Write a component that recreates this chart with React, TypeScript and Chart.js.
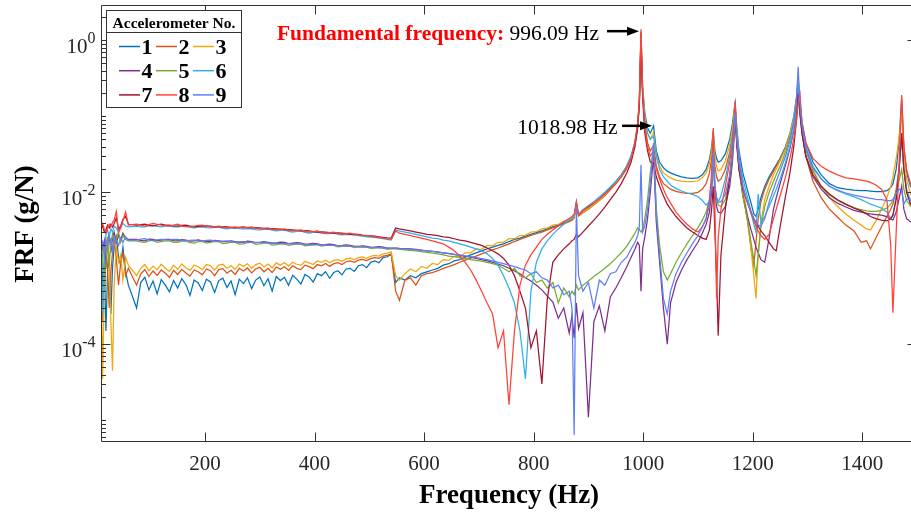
import React, { useEffect, useRef } from "react";
import { Chart, registerables } from "chart.js";

Chart.register(...registerables);

// ---------------- DATA ----------------
// Shared frequency grid (Hz)
const freq = [
  10, 13, 16, 19, 22, 25, 28, 31, 34, 38, 42, 46, 50, 55, 60,
  75, 82.5, 90, 97.5, 105, 112.5, 120, 127.5, 135,
  142.5, 150, 157.5, 165, 172.5, 180, 187.5, 195, 202.5,
  210, 217.5, 225, 232.5, 240, 247.5, 255, 262.5, 270,
  277.5, 285, 292.5, 300, 307.5, 315, 322.5, 330, 337.5,
  345, 352.5, 360, 367.5, 375, 382.5, 390, 397.5, 405,
  412.5, 420, 427.5, 435, 442.5, 450, 457.5, 465, 472.5,
  480, 487.5, 495, 502.5, 510, 517.5, 525, 532.5, 540,
  548, 555,
  565, 575, 585, 595, 605, 615, 625, 635, 645, 655,
  665, 675, 685, 695, 705, 715, 725, 735, 745, 755,
  765, 775, 785, 795, 805, 815, 825, 835, 845, 855,
  865,
  870, 874, 878, 882, 890, 900, 910, 920, 930, 940,
  950, 960, 970, 978, 985, 990, 993, 996, 999, 1003,
  1008, 1013, 1019, 1024, 1030, 1037, 1044, 1050, 1060, 1070,
  1080, 1090, 1100, 1108, 1115, 1121, 1125, 1128, 1131, 1134,
  1137, 1142, 1150, 1158, 1163, 1166, 1168, 1171, 1175, 1182,
  1190, 1197, 1202, 1206, 1210, 1215, 1222, 1230, 1238, 1243,
  1250, 1260, 1268, 1275, 1280, 1283, 1286, 1290, 1297, 1310,
  1325, 1340, 1355, 1370, 1385, 1398, 1408, 1415, 1425, 1435,
  1445, 1452, 1456, 1462, 1467, 1472, 1476, 1481, 1488, 1500,
];

// FRF (g/N) for accelerometers 1..9
const acc1 = [
  2.2e-3, 6e-4, 1.2e-3, 1.5e-4, 9e-4, 1.5e-3, 2.5e-4, 1.0e-3, 1.9e-3, 2.6e-3,
  1.4e-3, 1.1e-3, 1.9e-3, 9e-4, 6e-4,
  3e-4, 6.5e-4, 7.6e-4, 5.2e-4, 6.8e-4, 4.6e-4, 7.1e-4, 6.0e-4, 4.9e-4,
  6.9e-4, 5.5e-4, 7.3e-4, 6.1e-4, 4.4e-4, 7.0e-4, 6.4e-4, 5.1e-4, 7.2e-4,
  6.6e-4, 4.8e-4, 6.9e-4, 7.4e-4, 5.6e-4, 6.8e-4, 4.5e-4, 7.2e-4, 6.3e-4,
  7.5e-4, 5.4e-4, 7.0e-4, 7.7e-4, 5.9e-4, 7.3e-4, 5.0e-4, 7.8e-4, 6.9e-4,
  7.6e-4, 6.0e-4, 8.1e-4, 7.2e-4, 6.2e-4, 8.3e-4, 7.7e-4, 6.6e-4, 8.5e-4,
  8.0e-4, 9.0e-4, 7.4e-4, 8.8e-4, 9.3e-4, 8.2e-4, 9.8e-4, 1.0e-3, 9.1e-4,
  1.08e-3, 1.12e-3, 1.02e-3, 1.2e-3, 1.25e-3, 1.18e-3, 1.38e-3, 1.42e-3, 1.52e-3,
  6.5e-4, 7.5e-4,
  7e-4, 8e-4, 7.5e-4, 8.5e-4, 9e-4, 9.5e-4, 1.0e-3, 1.1e-3, 1.15e-3, 1.25e-3,
  1.3e-3, 1.4e-3, 1.5e-3, 1.6e-3, 1.7e-3, 1.8e-3, 1.9e-3, 2.0e-3, 2.1e-3, 2.25e-3,
  2.4e-3, 2.5e-3, 2.65e-3, 2.8e-3, 2.95e-3, 3.1e-3, 3.3e-3, 3.5e-3, 3.7e-3, 3.95e-3,
  4.2e-3,
  4.4e-3, 4.7e-3, 7.5e-3, 5.0e-3, 5.6e-3, 6.3e-3, 7.2e-3, 8.3e-3, 9.7e-3, 0.0115,
  0.0138, 0.017, 0.022, 0.03, 0.046, 0.08, 0.16, 1.3, 0.25, 0.11,
  0.07, 0.06, 0.075, 0.035, 0.025, 0.021, 0.019, 0.018, 0.0168, 0.016,
  0.0155, 0.0153, 0.0155, 0.017, 0.02, 0.027, 0.04, 0.065, 0.035, 0.028,
  0.025, 0.026, 0.032, 0.05, 0.08, 0.12, 0.15, 0.07, 0.035, 0.018,
  0.011, 0.0072, 0.0052, 0.0048, 0.006, 0.0085, 0.012, 0.016, 0.02, 0.023,
  0.028, 0.04, 0.06, 0.1, 0.18, 0.32, 0.16, 0.085, 0.045, 0.025,
  0.017, 0.013, 0.0115, 0.011, 0.0107, 0.0105, 0.0105, 0.0104, 0.0102, 0.0102,
  0.0105, 0.0115, 0.013, 0.02, 0.045, 0.17, 0.04, 0.018, 0.012, 0.0095,
];

const acc2 = [
  1.5e-3, 2e-4, 8e-4, 2.0e-3, 1.0e-3, 3e-4, 9e-4, 1.6e-3, 2.5e-3, 1.3e-3,
  6e-4, 1.2e-3, 1.6e-3, 8e-4, 1.0e-3,
  6e-4, 8.4e-4, 9.6e-4, 7.8e-4, 9.2e-4, 8.1e-4, 9.5e-4, 8.6e-4, 7.6e-4,
  9.4e-4, 8.3e-4, 9.7e-4, 8.7e-4, 7.9e-4, 9.5e-4, 9.0e-4, 8.2e-4, 9.8e-4,
  9.3e-4, 8.0e-4, 9.6e-4, 9.9e-4, 8.6e-4, 9.4e-4, 8.3e-4, 1.0e-3, 9.2e-4,
  1.01e-3, 8.7e-4, 9.8e-4, 1.03e-3, 9.0e-4, 1.0e-3, 8.8e-4, 1.04e-3, 9.7e-4,
  1.05e-3, 9.4e-4, 1.08e-3, 1.0e-3, 9.6e-4, 1.1e-3, 1.05e-3, 9.9e-4, 1.12e-3,
  1.08e-3, 1.16e-3, 1.06e-3, 1.15e-3, 1.19e-3, 1.12e-3, 1.22e-3, 1.25e-3, 1.2e-3,
  1.28e-3, 1.31e-3, 1.26e-3, 1.34e-3, 1.38e-3, 1.35e-3, 1.45e-3, 1.48e-3, 1.55e-3,
  5e-4, 3.8e-4,
  7e-4, 7.5e-4, 6e-4, 8e-4, 8.5e-4, 8.8e-4, 9.3e-4, 1.0e-3, 1.05e-3, 1.12e-3,
  1.2e-3, 1.28e-3, 1.36e-3, 1.45e-3, 1.55e-3, 1.65e-3, 1.75e-3, 1.85e-3, 1.97e-3, 2.1e-3,
  2.25e-3, 2.4e-3, 2.55e-3, 2.7e-3, 2.85e-3, 3.0e-3, 3.2e-3, 3.4e-3, 3.6e-3, 3.85e-3,
  4.1e-3,
  4.3e-3, 4.6e-3, 6.8e-3, 4.9e-3, 5.4e-3, 6.0e-3, 6.8e-3, 7.8e-3, 9.0e-3, 0.0108,
  0.013, 0.016, 0.0205, 0.028, 0.043, 0.075, 0.15, 1.2, 0.2, 0.08,
  0.045, 0.035, 0.042, 0.022, 0.016, 0.013, 0.0118, 0.011, 0.0103, 0.0099,
  0.0097, 0.0097, 0.01, 0.011, 0.013, 0.018, 0.028, 0.05, 0.022, 0.016,
  0.014, 0.015, 0.02, 0.034, 0.058, 0.09, 0.12, 0.05, 0.024, 0.01,
  0.0045, 0.0018, 0.0011, 0.0022, 0.0045, 0.0075, 0.011, 0.015, 0.019, 0.022,
  0.027, 0.038, 0.055, 0.09, 0.16, 0.28, 0.13, 0.065, 0.03, 0.014,
  0.0085, 0.006, 0.0047, 0.0037, 0.0031, 0.0022, 0.0023, 0.0018, 0.0025, 0.0035,
  0.0048, 0.006, 0.007, 0.011, 0.02, 0.06, 0.02, 0.0105, 0.0072, 0.0058,
];

const acc3 = [
  1.2e-3, 3.5e-5, 5e-4, 1.5e-3, 2.4e-3, 1.2e-3, 2e-4, 4.5e-5, 6e-4, 1.9e-3,
  1.2e-3, 1.5e-3, 7e-4, 1.4e-3, 1.1e-3,
  8e-4, 1.0e-3, 1.12e-3, 9.3e-4, 1.07e-3, 9.6e-4, 1.13e-3, 1.0e-3, 9.1e-4,
  1.1e-3, 9.7e-4, 1.14e-3, 1.02e-3, 9.4e-4, 1.1e-3, 1.05e-3, 9.6e-4, 1.12e-3,
  1.08e-3, 9.5e-4, 1.1e-3, 1.13e-3, 1.0e-3, 1.08e-3, 9.7e-4, 1.14e-3, 1.06e-3,
  1.15e-3, 1.0e-3, 1.12e-3, 1.17e-3, 1.04e-3, 1.14e-3, 1.01e-3, 1.18e-3, 1.1e-3,
  1.19e-3, 1.07e-3, 1.2e-3, 1.13e-3, 1.1e-3, 1.23e-3, 1.18e-3, 1.12e-3, 1.25e-3,
  1.2e-3, 1.28e-3, 1.18e-3, 1.27e-3, 1.3e-3, 1.24e-3, 1.33e-3, 1.36e-3, 1.3e-3,
  1.38e-3, 1.41e-3, 1.35e-3, 1.44e-3, 1.48e-3, 1.45e-3, 1.55e-3, 1.58e-3, 1.65e-3,
  8e-4, 7e-4,
  8.5e-4, 9.8e-4, 9.0e-4, 1.06e-3, 1.0e-3, 1.16e-3, 1.12e-3, 1.3e-3, 1.27e-3, 1.45e-3,
  1.42e-3, 1.6e-3, 1.6e-3, 1.8e-3, 1.78e-3, 2.0e-3, 1.98e-3, 2.2e-3, 2.2e-3, 2.45e-3,
  2.45e-3, 2.7e-3, 2.72e-3, 3.0e-3, 3.05e-3, 3.3e-3, 3.4e-3, 3.7e-3, 3.8e-3, 4.15e-3,
  4.35e-3,
  4.5e-3, 4.8e-3, 7e-3, 5.0e-3, 5.5e-3, 6.1e-3, 6.9e-3, 7.9e-3, 9.2e-3, 0.011,
  0.0132, 0.0163, 0.021, 0.029, 0.044, 0.075, 0.15, 1.1, 0.22, 0.1,
  0.06, 0.05, 0.062, 0.03, 0.022, 0.018, 0.0165, 0.0155, 0.0145, 0.014,
  0.0138, 0.0138, 0.0142, 0.0155, 0.018, 0.024, 0.035, 0.06, 0.03, 0.022,
  0.019, 0.02, 0.026, 0.042, 0.07, 0.11, 0.14, 0.06, 0.028, 0.012,
  0.005, 0.0018, 8e-4, 4e-4, 1.5e-3, 4e-3, 8e-3, 0.012, 0.017, 0.02,
  0.026, 0.038, 0.058, 0.095, 0.17, 0.3, 0.14, 0.075, 0.038, 0.02,
  0.012, 0.0085, 0.0065, 0.0052, 0.0043, 0.0037, 0.0033, 0.0032, 0.0042, 0.006,
  0.0085, 0.012, 0.016, 0.028, 0.05, 0.11, 0.03, 0.015, 0.0095, 0.0075,
];

const acc4 = [
  2.6e-3, 1.8e-3, 2.3e-3, 1.0e-3, 2.4e-3, 2.8e-3, 1.6e-3, 2.5e-3, 3.0e-3, 2.2e-3,
  2.7e-3, 2.4e-3, 2.9e-3, 2.5e-3, 2.4e-3,
  2.4e-3, 2.33e-3, 2.3e-3, 2.42e-3, 2.4e-3, 2.31e-3, 2.35e-3, 2.4e-3, 2.4e-3,
  2.32e-3, 2.3e-3, 2.38e-3, 2.35e-3, 2.28e-3, 2.3e-3, 2.36e-3, 2.3e-3, 2.27e-3,
  2.25e-3, 2.33e-3, 2.3e-3, 2.24e-3, 2.25e-3, 2.3e-3, 2.25e-3, 2.19e-3, 2.2e-3,
  2.27e-3, 2.25e-3, 2.17e-3, 2.2e-3, 2.24e-3, 2.2e-3, 2.14e-3, 2.15e-3, 2.21e-3,
  2.2e-3, 2.12e-3, 2.15e-3, 2.18e-3, 2.15e-3, 2.08e-3, 2.1e-3, 2.13e-3, 2.1e-3,
  2.03e-3, 2.05e-3, 2.08e-3, 2.05e-3, 1.98e-3, 2.0e-3, 2.03e-3, 2.0e-3, 1.94e-3,
  1.95e-3, 1.98e-3, 1.95e-3, 1.89e-3, 1.9e-3, 1.93e-3, 1.9e-3, 1.84e-3, 1.85e-3,
  1.85e-3, 1.83e-3,
  1.82e-3, 1.8e-3, 1.77e-3, 1.74e-3, 1.7e-3, 1.67e-3, 1.63e-3, 1.6e-3, 1.56e-3, 1.52e-3,
  1.48e-3, 1.44e-3, 1.4e-3, 1.35e-3, 1.3e-3, 1.25e-3, 1.2e-3, 1.14e-3, 1.08e-3, 1.0e-3,
  9.2e-4, 8.5e-4, 7.5e-4, 6.8e-4, 6e-4, 5.2e-4, 4.3e-4, 3.6e-4, 2.2e-4, 3e-4,
  1.4e-4,
  2.4e-4, 1.2e-4, 3.5e-4, 1.6e-4, 2.6e-4, 1.1e-5, 2e-4, 3.2e-4, 1.5e-4, 4.2e-4,
  5.5e-4, 7.5e-4, 1.05e-3, 1.4e-3, 1.8e-3, 2.2e-3, 2.0e-3, 5e-4, 1.8e-3, 2.6e-3,
  4.5e-3, 0.01, 0.03, 0.004, 0.0012, 3e-4, 1.0e-4, 3.5e-4, 6.5e-4, 9.5e-4,
  1.3e-3, 1.7e-3, 2.2e-3, 2.9e-3, 3.8e-3, 5.5e-3, 0.01, 0.03, 0.01, 0.0065,
  0.0055, 0.0053, 0.0065, 0.012, 0.025, 0.05, 0.1, 0.045, 0.02, 0.009,
  0.005, 0.0032, 0.0024, 0.0019, 0.0016, 0.0013, 0.0012, 0.0025, 0.006, 0.0085,
  0.013, 0.023, 0.038, 0.065, 0.12, 0.22, 0.11, 0.06, 0.03, 0.016,
  0.011, 0.0085, 0.0072, 0.0064, 0.0058, 0.0055, 0.0053, 0.0052, 0.0051, 0.005,
  0.0048, 0.0045, 0.0043, 0.0055, 0.008, 0.012, 0.006, 0.0045, 0.0041, 0.0038,
];

const acc5 = [
  2.4e-3, 1.4e-3, 5e-4, 1.2e-3, 2.6e-3, 1.1e-3, 2.2e-3, 2.8e-3, 2.0e-3, 2.5e-3,
  3.0e-3, 2.2e-3, 2.7e-3, 2.4e-3, 2.3e-3,
  2.3e-3, 2.22e-3, 2.2e-3, 2.3e-3, 2.35e-3, 2.2e-3, 2.25e-3, 2.3e-3, 2.3e-3,
  2.2e-3, 2.2e-3, 2.27e-3, 2.3e-3, 2.17e-3, 2.15e-3, 2.24e-3, 2.25e-3, 2.14e-3,
  2.2e-3, 2.26e-3, 2.25e-3, 2.12e-3, 2.15e-3, 2.21e-3, 2.2e-3, 2.08e-3, 2.1e-3,
  2.18e-3, 2.2e-3, 2.07e-3, 2.1e-3, 2.14e-3, 2.15e-3, 2.02e-3, 2.05e-3, 2.1e-3,
  2.1e-3, 2.0e-3, 2.05e-3, 2.08e-3, 2.1e-3, 1.97e-3, 2.0e-3, 2.04e-3, 2.05e-3,
  1.96e-3, 2.0e-3, 2.0e-3, 2.0e-3, 1.92e-3, 1.95e-3, 1.97e-3, 1.95e-3, 1.87e-3,
  1.9e-3, 1.92e-3, 1.9e-3, 1.83e-3, 1.85e-3, 1.87e-3, 1.85e-3, 1.78e-3, 1.8e-3,
  1.8e-3, 1.78e-3,
  1.75e-3, 1.72e-3, 1.7e-3, 1.66e-3, 1.62e-3, 1.58e-3, 1.55e-3, 1.5e-3, 1.45e-3, 1.42e-3,
  1.38e-3, 1.34e-3, 1.3e-3, 1.27e-3, 1.24e-3, 1.2e-3, 1.15e-3, 1.1e-3, 1.0e-3, 9e-4,
  1.0e-3, 8e-4, 7.5e-4, 8.5e-4, 6.5e-4, 7e-4, 5.5e-4, 6.5e-4, 3.5e-4, 5.5e-4,
  4.2e-4,
  5e-4, 4.5e-4, 6e-4, 5.2e-4, 6e-4, 6.8e-4, 7.8e-4, 8.8e-4, 1.0e-3, 1.15e-3,
  1.35e-3, 1.6e-3, 1.95e-3, 2.4e-3, 2.9e-3, 3.4e-3, 3.2e-3, 3.0e-3, 3.3e-3, 4.5e-3,
  0.008, 0.018, 0.04, 0.006, 0.002, 9e-4, 7e-4, 8.5e-4, 1.2e-3, 1.6e-3,
  2.1e-3, 2.7e-3, 3.4e-3, 4.3e-3, 5.5e-3, 8e-3, 0.014, 0.04, 0.012, 0.008,
  0.0068, 0.0065, 0.008, 0.015, 0.03, 0.06, 0.12, 0.05, 0.022, 0.009,
  0.0045, 0.0022, 1.3e-3, 8e-4, 1.5e-3, 3.5e-3, 6.5e-3, 0.01, 0.014, 0.017,
  0.022, 0.034, 0.052, 0.085, 0.15, 0.27, 0.13, 0.07, 0.036, 0.019,
  0.012, 0.0092, 0.0078, 0.0069, 0.0063, 0.0059, 0.0057, 0.0056, 0.0056, 0.0058,
  0.0062, 0.007, 0.0078, 0.01, 0.014, 0.02, 0.011, 0.0078, 0.0066, 0.006,
];

const acc6 = [
  2.5e-3, 2.5e-4, 1.5e-3, 2.8e-3, 3.2e-3, 2.6e-3, 3.3e-3, 3.0e-3, 3.6e-3, 3.4e-3,
  3.0e-3, 3.5e-3, 3.9e-3, 3.6e-3, 3.5e-3,
  3.6e-3, 3.52e-3, 3.5e-3, 3.62e-3, 3.7e-3, 3.55e-3, 3.5e-3, 3.58e-3, 3.6e-3,
  3.5e-3, 3.5e-3, 3.57e-3, 3.6e-3, 3.45e-3, 3.4e-3, 3.48e-3, 3.5e-3, 3.42e-3,
  3.4e-3, 3.46e-3, 3.5e-3, 3.36e-3, 3.3e-3, 3.37e-3, 3.4e-3, 3.32e-3, 3.3e-3,
  3.33e-3, 3.3e-3, 3.22e-3, 3.2e-3, 3.26e-3, 3.3e-3, 3.17e-3, 3.1e-3, 3.16e-3,
  3.2e-3, 3.07e-3, 3.0e-3, 3.06e-3, 3.1e-3, 2.97e-3, 2.9e-3, 2.96e-3, 3.0e-3,
  2.9e-3, 2.85e-3, 2.86e-3, 2.9e-3, 2.8e-3, 2.75e-3, 2.77e-3, 2.8e-3, 2.72e-3,
  2.7e-3, 2.66e-3, 2.6e-3, 2.58e-3, 2.55e-3, 2.5e-3, 2.45e-3, 2.4e-3, 2.35e-3,
  3.2e-3, 3.1e-3,
  3.0e-3, 2.9e-3, 2.8e-3, 2.7e-3, 2.6e-3, 2.5e-3, 2.45e-3, 2.35e-3, 2.3e-3, 2.2e-3,
  2.1e-3, 2.0e-3, 1.9e-3, 1.8e-3, 1.7e-3, 1.55e-3, 1.35e-3, 1.1e-3, 8e-4, 5.5e-4,
  3.5e-4, 1.5e-4, 3.5e-5, 5e-4, 1.2e-3, 1.8e-3, 2.3e-3, 2.8e-3, 3.3e-3, 3.8e-3,
  4.3e-3,
  4.6e-3, 4.9e-3, 7e-3, 5.2e-3, 5.9e-3, 6.7e-3, 7.6e-3, 8.7e-3, 0.01, 0.0118,
  0.014, 0.017, 0.022, 0.03, 0.045, 0.08, 0.15, 1.0, 0.2, 0.09,
  0.06, 0.05, 0.055, 0.03, 0.02, 0.016, 0.014, 0.0125, 0.0112, 0.0104,
  0.0098, 0.0094, 0.0088, 0.0078, 0.0068, 0.0075, 0.013, 0.045, 0.012, 0.0085,
  0.0075, 0.009, 0.015, 0.03, 0.055, 0.09, 0.13, 0.06, 0.03, 0.015,
  0.009, 0.0055, 0.0038, 0.003, 0.0095, 0.004, 0.0048, 0.0065, 0.009, 0.011,
  0.015, 0.025, 0.04, 0.07, 0.13, 0.25, 0.15, 0.08, 0.04, 0.022,
  0.015, 0.012, 0.0105, 0.0095, 0.0087, 0.008, 0.0074, 0.007, 0.0066, 0.0062,
  0.0055, 0.0045, 0.005, 0.009, 0.02, 0.05, 0.02, 0.011, 0.0078, 0.0068,
];

const acc7 = [
  3.3e-3, 3.6e-3, 3.0e-3, 3.2e-3, 3.7e-3, 3.4e-3, 3.8e-3, 3.5e-3, 3.9e-3, 4.6e-3,
  3.3e-3, 3.6e-3, 4.4e-3, 4.8e-3, 3.8e-3,
  3.7e-3, 3.75e-3, 3.8e-3, 3.68e-3, 3.6e-3, 3.72e-3, 3.8e-3, 3.7e-3, 3.7e-3,
  3.62e-3, 3.6e-3, 3.68e-3, 3.7e-3, 3.58e-3, 3.5e-3, 3.57e-3, 3.6e-3, 3.62e-3,
  3.6e-3, 3.52e-3, 3.5e-3, 3.53e-3, 3.5e-3, 3.45e-3, 3.4e-3, 3.46e-3, 3.5e-3,
  3.44e-3, 3.4e-3, 3.42e-3, 3.4e-3, 3.35e-3, 3.3e-3, 3.32e-3, 3.3e-3, 3.27e-3,
  3.2e-3, 3.23e-3, 3.2e-3, 3.15e-3, 3.1e-3, 3.13e-3, 3.1e-3, 3.05e-3, 3.0e-3,
  3.02e-3, 3.0e-3, 2.95e-3, 2.9e-3, 2.92e-3, 2.9e-3, 2.85e-3, 2.8e-3, 2.82e-3,
  2.8e-3, 2.74e-3, 2.7e-3, 2.68e-3, 2.65e-3, 2.6e-3, 2.55e-3, 2.52e-3, 2.5e-3,
  3.4e-3, 3.3e-3,
  3.2e-3, 3.1e-3, 3.0e-3, 2.9e-3, 2.8e-3, 2.75e-3, 2.7e-3, 2.6e-3, 2.55e-3, 2.45e-3,
  2.35e-3, 2.3e-3, 2.2e-3, 2.1e-3, 2.0e-3, 1.85e-3, 1.7e-3, 1.55e-3, 1.35e-3, 1.1e-3,
  8e-4, 5e-4, 3e-4, 9e-5, 1.5e-4, 3e-5, 4e-4, 1.2e-3, 1.5e-3, 1.8e-3,
  2.1e-3,
  2.3e-3, 2.4e-3, 2.8e-3, 2.6e-3, 3.0e-3, 3.6e-3, 4.3e-3, 5.2e-3, 6.4e-3, 8e-3,
  0.01, 0.013, 0.018, 0.025, 0.04, 0.07, 0.14, 1.0, 0.18, 0.06,
  0.035, 0.025, 0.024, 0.016, 0.012, 0.009, 0.007, 0.006, 0.0048, 0.004,
  0.0034, 0.003, 0.0027, 0.0025, 0.0024, 0.0032, 0.006, 0.012, 0.003, 8e-4,
  1.3e-4, 1.5e-3, 6e-3, 0.016, 0.035, 0.07, 0.1, 0.04, 0.02, 0.011,
  0.0075, 0.0055, 0.0045, 0.004, 0.0036, 0.0031, 0.0027, 0.0022, 0.0018, 0.0017,
  0.0035, 0.009, 0.018, 0.04, 0.09, 0.2, 0.12, 0.06, 0.03, 0.017,
  0.012, 0.0095, 0.008, 0.007, 0.0062, 0.0057, 0.0052, 0.0048, 0.0045, 0.0043,
  0.0042, 0.0045, 0.005, 0.008, 0.018, 0.06, 0.02, 0.01, 0.007, 0.0055,
];

const acc8 = [
  3.6e-3, 3.9e-3, 3.3e-3, 2.9e-3, 3.4e-3, 3.8e-3, 3.5e-3, 4.0e-3, 4.3e-3, 5.6e-3,
  3.0e-3, 3.4e-3, 4.2e-3, 5.5e-3, 3.7e-3,
  3.8e-3, 3.7e-3, 3.6e-3, 3.75e-3, 3.9e-3, 3.8e-3, 3.7e-3, 3.65e-3, 3.6e-3,
  3.7e-3, 3.8e-3, 3.62e-3, 3.5e-3, 3.55e-3, 3.6e-3, 3.66e-3, 3.7e-3, 3.58e-3,
  3.5e-3, 3.54e-3, 3.6e-3, 3.5e-3, 3.4e-3, 3.45e-3, 3.5e-3, 3.44e-3, 3.4e-3,
  3.45e-3, 3.5e-3, 3.38e-3, 3.3e-3, 3.35e-3, 3.4e-3, 3.28e-3, 3.2e-3, 3.25e-3,
  3.3e-3, 3.18e-3, 3.1e-3, 3.15e-3, 3.2e-3, 3.08e-3, 3.0e-3, 3.05e-3, 3.1e-3,
  2.98e-3, 2.9e-3, 2.95e-3, 3.0e-3, 2.88e-3, 2.8e-3, 2.85e-3, 2.9e-3, 2.8e-3,
  2.75e-3, 2.72e-3, 2.7e-3, 2.65e-3, 2.6e-3, 2.55e-3, 2.5e-3, 2.45e-3, 2.4e-3,
  3.1e-3, 2.9e-3,
  2.8e-3, 2.7e-3, 2.6e-3, 2.5e-3, 2.4e-3, 2.3e-3, 2.2e-3, 2.1e-3, 1.9e-3, 1.7e-3,
  1.45e-3, 1.2e-3, 9.5e-4, 7e-4, 5e-4, 3.5e-4, 2.5e-4, 9e-5, 1.5e-4, 1.6e-5,
  1.5e-4, 6e-4, 1.1e-3, 1.5e-3, 1.9e-3, 2.4e-3, 2.8e-3, 3.2e-3, 3.6e-3, 4.1e-3,
  4.5e-3,
  4.8e-3, 5.2e-3, 7.5e-3, 5.0e-3, 5.8e-3, 6.5e-3, 7.3e-3, 8.2e-3, 9.5e-3, 0.011,
  0.013, 0.016, 0.021, 0.028, 0.045, 0.08, 0.16, 1.4, 0.2, 0.07,
  0.04, 0.03, 0.035, 0.02, 0.015, 0.011, 0.0085, 0.0072, 0.0055, 0.0045,
  0.0038, 0.0033, 0.003, 0.0035, 0.0045, 0.008, 0.018, 0.07, 0.006, 4e-4,
  2.5e-3, 6e-3, 0.012, 0.025, 0.045, 0.08, 0.16, 0.05, 0.025, 0.012,
  0.0075, 0.0052, 0.0042, 0.0036, 0.0031, 0.0027, 0.0024, 0.0028, 0.0045, 0.006,
  0.009, 0.016, 0.028, 0.05, 0.09, 0.15, 0.22, 0.08, 0.045, 0.028,
  0.022, 0.019, 0.017, 0.0155, 0.015, 0.0145, 0.014, 0.0135, 0.0125, 0.011,
  0.008, 0.002, 2.6e-4, 0.003, 0.02, 0.19, 0.04, 0.02, 0.013, 0.01,
];

const acc9 = [
  2.5e-3, 2.2e-3, 1.4e-3, 2.4e-3, 2.0e-3, 2.6e-3, 2.3e-3, 1.7e-3, 2.6e-3, 2.3e-3,
  2.0e-3, 2.5e-3, 2.2e-3, 2.6e-3, 2.35e-3,
  2.35e-3, 2.42e-3, 2.45e-3, 2.36e-3, 2.3e-3, 2.36e-3, 2.4e-3, 2.38e-3, 2.35e-3,
  2.4e-3, 2.4e-3, 2.33e-3, 2.3e-3, 2.34e-3, 2.35e-3, 2.32e-3, 2.3e-3, 2.33e-3,
  2.35e-3, 2.29e-3, 2.25e-3, 2.28e-3, 2.3e-3, 2.24e-3, 2.2e-3, 2.23e-3, 2.25e-3,
  2.21e-3, 2.2e-3, 2.2e-3, 2.2e-3, 2.17e-3, 2.15e-3, 2.16e-3, 2.15e-3, 2.12e-3,
  2.1e-3, 2.11e-3, 2.1e-3, 2.09e-3, 2.1e-3, 2.07e-3, 2.05e-3, 2.06e-3, 2.05e-3,
  2.02e-3, 2.0e-3, 2.01e-3, 2.0e-3, 1.98e-3, 1.97e-3, 1.96e-3, 1.95e-3, 1.94e-3,
  1.93e-3, 1.92e-3, 1.9e-3, 1.89e-3, 1.88e-3, 1.87e-3, 1.85e-3, 1.84e-3, 1.83e-3,
  1.85e-3, 1.82e-3,
  1.8e-3, 1.78e-3, 1.75e-3, 1.72e-3, 1.7e-3, 1.67e-3, 1.64e-3, 1.6e-3, 1.57e-3, 1.53e-3,
  1.5e-3, 1.46e-3, 1.42e-3, 1.38e-3, 1.34e-3, 1.3e-3, 1.25e-3, 1.2e-3, 1.15e-3, 1.1e-3,
  1.05e-3, 1.0e-3, 9.5e-4, 8.5e-4, 9e-4, 7.5e-4, 7e-4, 5.5e-4, 6e-4, 4.5e-4,
  5e-4,
  3e-4, 6.4e-6, 6.5e-3, 8e-4, 5e-4, 6.5e-4, 3e-4, 7e-4, 6e-4, 8.5e-4,
  9e-4, 1.2e-3, 1.4e-3, 1.8e-3, 2.2e-3, 2.7e-3, 3.5e-3, 0.023, 3e-3, 3.6e-3,
  6e-3, 0.013, 0.045, 0.005, 0.0015, 4e-4, 2.5e-4, 5e-4, 8.5e-4, 1.2e-3,
  1.6e-3, 2.1e-3, 2.7e-3, 3.5e-3, 4.6e-3, 6.8e-3, 0.012, 0.035, 0.012, 0.0085,
  0.0075, 0.0075, 0.0095, 0.017, 0.033, 0.06, 0.11, 0.05, 0.025, 0.012,
  0.0075, 0.0055, 0.0045, 0.004, 0.0037, 0.0036, 0.0045, 0.0075, 0.011, 0.014,
  0.019, 0.03, 0.048, 0.085, 0.17, 0.45, 0.15, 0.075, 0.038, 0.021,
  0.015, 0.012, 0.0107, 0.0098, 0.0092, 0.0088, 0.0085, 0.0083, 0.0081, 0.008,
  0.0078, 0.0078, 0.008, 0.0095, 0.011, 0.0105, 0.007, 0.0082, 0.008, 0.0078,
];

const seriesValues = [acc1, acc2, acc3, acc4, acc5, acc6, acc7, acc8, acc9];
const seriesNames = ["1", "2", "3", "4", "5", "6", "7", "8", "9"];
const seriesColors = [
  "#0072BD", "#D95319", "#F2A60C", "#7E2F8E", "#77AC30",
  "#2FB0EA", "#A2142F", "#FF4136", "#5F7FF5",
];

const xTickValues = [200, 400, 600, 800, 1000, 1200, 1400];
const yLabelExponents = [0, -2, -4];
const X_MIN = 10;
const X_MAX = 1500;
const Y_MIN = 5.18e-6;
const Y_MAX = 2.83;

const fundamentalHz = 996.09;
const fundamentalLevel = 1.32;
const secondHz = 1018.98;
const secondLevel = 0.075;

const FONT = '"Liberation Serif", "Times New Roman", serif';

// ---------------- PLUGIN (MATLAB-style frame, labels, legend, notes) ----------------
const framePlugin = {
  id: "matlabFrame",
  afterDraw(chart: any) {
    const { ctx, chartArea: ca, scales } = chart;
    const xs = scales.x;
    const ys = scales.y;
    const L = Math.round(ca.left) + 0.5;
    const R = Math.round(ca.right) - 0.5;
    const T = Math.round(ca.top) - 0.5;
    const B = Math.round(ca.bottom) - 0.5;

    ctx.save();
    ctx.strokeStyle = "#333333";
    ctx.lineWidth = 1;
    ctx.beginPath();
    ctx.moveTo(L, T);
    ctx.lineTo(R, T);
    ctx.lineTo(R, B);
    ctx.lineTo(L, B);
    ctx.closePath();
    ctx.stroke();

    ctx.beginPath();
    for (const v of xTickValues) {
      const px = Math.round(xs.getPixelForValue(v)) + 0.5;
      ctx.moveTo(px, B);
      ctx.lineTo(px, B - 9);
      ctx.moveTo(px, T);
      ctx.lineTo(px, T + 9);
    }
    for (let d = -6; d <= 1; d++) {
      for (let m = 1; m <= 9; m++) {
        const v = m * Math.pow(10, d);
        if (v < Y_MIN || v > Y_MAX) continue;
        const py = Math.round(ys.getPixelForValue(v)) + 0.5;
        const len = m === 1 && yLabelExponents.includes(d) ? 9 : 4.5;
        ctx.moveTo(L, py);
        ctx.lineTo(L + len, py);
        ctx.moveTo(R, py);
        ctx.lineTo(R - len, py);
      }
    }
    ctx.stroke();

    // tick labels
    ctx.fillStyle = "#262626";
    ctx.textBaseline = "alphabetic";
    ctx.textAlign = "center";
    ctx.font = `21px ${FONT}`;
    for (const v of xTickValues) {
      ctx.fillText(String(v), xs.getPixelForValue(v), B + 28);
    }
    ctx.textAlign = "left";
    for (const e of yLabelExponents) {
      const py = ys.getPixelForValue(Math.pow(10, e));
      const expText = String(e);
      ctx.font = `16px ${FONT}`;
      const w2 = ctx.measureText(expText).width;
      ctx.font = `21px ${FONT}`;
      const w1 = ctx.measureText("10").width;
      const right = L - 6;
      ctx.fillText("10", right - w2 - w1, py + 13);
      ctx.font = `16px ${FONT}`;
      ctx.fillText(expText, right - w2, py + 3);
    }

    // axis titles
    ctx.fillStyle = "#000";
    ctx.font = `bold 27px ${FONT}`;
    ctx.textAlign = "center";
    ctx.fillText("Frequency (Hz)", (ca.left + ca.right) / 2, 503);
    ctx.save();
    ctx.translate(33, (ca.top + ca.bottom) / 2);
    ctx.rotate(-Math.PI / 2);
    ctx.fillText("FRF (g/N)", 0, 0);
    ctx.restore();

    // legend
    const lx = Math.round(ca.left) + 5;
    const ly = Math.round(ca.top) + 4;
    const lw = 135;
    const lh = 97;
    ctx.fillStyle = "#fff";
    ctx.fillRect(lx, ly, lw, lh);
    ctx.strokeStyle = "#333333";
    ctx.lineWidth = 1;
    ctx.strokeRect(lx + 0.5, ly + 0.5, lw, lh);
    ctx.beginPath();
    ctx.moveTo(lx, ly + 22.5);
    ctx.lineTo(lx + lw, ly + 22.5);
    ctx.stroke();
    ctx.fillStyle = "#000";
    ctx.font = `bold 15.5px ${FONT}`;
    ctx.textAlign = "center";
    ctx.fillText("Accelerometer No.", lx + lw / 2 + 0.5, ly + 18);
    ctx.font = `bold 22px ${FONT}`;
    ctx.textAlign = "left";
    for (let i = 0; i < seriesNames.length; i++) {
      const row = Math.floor(i / 3);
      const col = i % 3;
      const sx = lx + 13 + col * 37;
      const cy = ly + 36.5 + row * 24.2;
      ctx.strokeStyle = seriesColors[i];
      ctx.lineWidth = 1.5;
      ctx.beginPath();
      ctx.moveTo(sx, cy);
      ctx.lineTo(sx + 21, cy);
      ctx.stroke();
      ctx.fillStyle = "#000";
      ctx.fillText(seriesNames[i], sx + 22.5, cy + 7.5);
    }

    // annotations
    const drawArrow = (tipX: number, y: number, len: number) => {
      ctx.strokeStyle = "#000";
      ctx.fillStyle = "#000";
      ctx.lineWidth = 2.5;
      ctx.beginPath();
      ctx.moveTo(tipX - len, y);
      ctx.lineTo(tipX - 10, y);
      ctx.stroke();
      ctx.beginPath();
      ctx.moveTo(tipX, y);
      ctx.lineTo(tipX - 12, y - 4.5);
      ctx.lineTo(tipX - 12, y + 4.5);
      ctx.closePath();
      ctx.fill();
    };

    const t1x = xs.getPixelForValue(fundamentalHz) - 2;
    const t1y = ys.getPixelForValue(fundamentalLevel);
    drawArrow(t1x, t1y, 32);
    const blackText = `${fundamentalHz} Hz`;
    ctx.font = `21.5px ${FONT}`;
    ctx.textAlign = "left";
    const wBlack = ctx.measureText(blackText).width;
    const wSpace = ctx.measureText(" ").width;
    const blackX = t1x - 32 - 8 - wBlack;
    ctx.fillStyle = "#000";
    ctx.fillText(blackText, blackX, t1y + 8.5);
    ctx.font = `bold 21.5px ${FONT}`;
    const redText = "Fundamental frequency:";
    const wRed = ctx.measureText(redText).width;
    ctx.fillStyle = "#FF0000";
    ctx.fillText(redText, blackX - wSpace - wRed, t1y + 8.5);

    const t2x = xs.getPixelForValue(secondHz) - 1.5;
    const t2y = ys.getPixelForValue(secondLevel);
    drawArrow(t2x, t2y, 30);
    ctx.font = `21.5px ${FONT}`;
    ctx.fillStyle = "#000";
    ctx.textAlign = "right";
    ctx.fillText(`${secondHz} Hz`, t2x - 30 - 4.5, t2y + 8.5);

    ctx.restore();
  },
};

export default function App() {
  const canvasRef = useRef<HTMLCanvasElement | null>(null);

  useEffect(() => {
    const canvas = canvasRef.current;
    if (!canvas) return;
    const datasets = seriesValues.map((vals, i) => ({
      label: seriesNames[i],
      data: freq.map((f, k) => ({ x: f, y: vals[k] })),
      borderColor: seriesColors[i],
      backgroundColor: seriesColors[i],
      borderWidth: 1.25,
      pointRadius: 0,
      tension: 0,
      fill: false,
      order: seriesValues.length - 1 - i,
    }));
    const chart = new Chart(canvas, {
      type: "line",
      data: { datasets },
      options: {
        animation: false,
        responsive: false,
        devicePixelRatio: 1,
        layout: { padding: { left: 0, right: 13, top: 6, bottom: 0 } },
        plugins: {
          legend: { display: false },
          tooltip: { enabled: false },
        },
        scales: {
          x: {
            type: "linear",
            min: X_MIN,
            max: X_MAX,
            grid: { display: false },
            border: { display: false },
            ticks: { display: false },
            afterFit: (s: any) => {
              s.height = 73;
            },
          },
          y: {
            type: "logarithmic",
            min: Y_MIN,
            max: Y_MAX,
            grid: { display: false },
            border: { display: false },
            ticks: { display: false },
            afterFit: (s: any) => {
              s.width = 101;
            },
          },
        },
      } as any,
      plugins: [framePlugin],
    });
    return () => chart.destroy();
  }, []);

  return (
    <div style={{ position: "fixed", left: 0, top: 0, width: 930, height: 515, background: "#fff" }}>
      <canvas ref={canvasRef} width={930} height={515} style={{ display: "block" }} />
    </div>
  );
}
